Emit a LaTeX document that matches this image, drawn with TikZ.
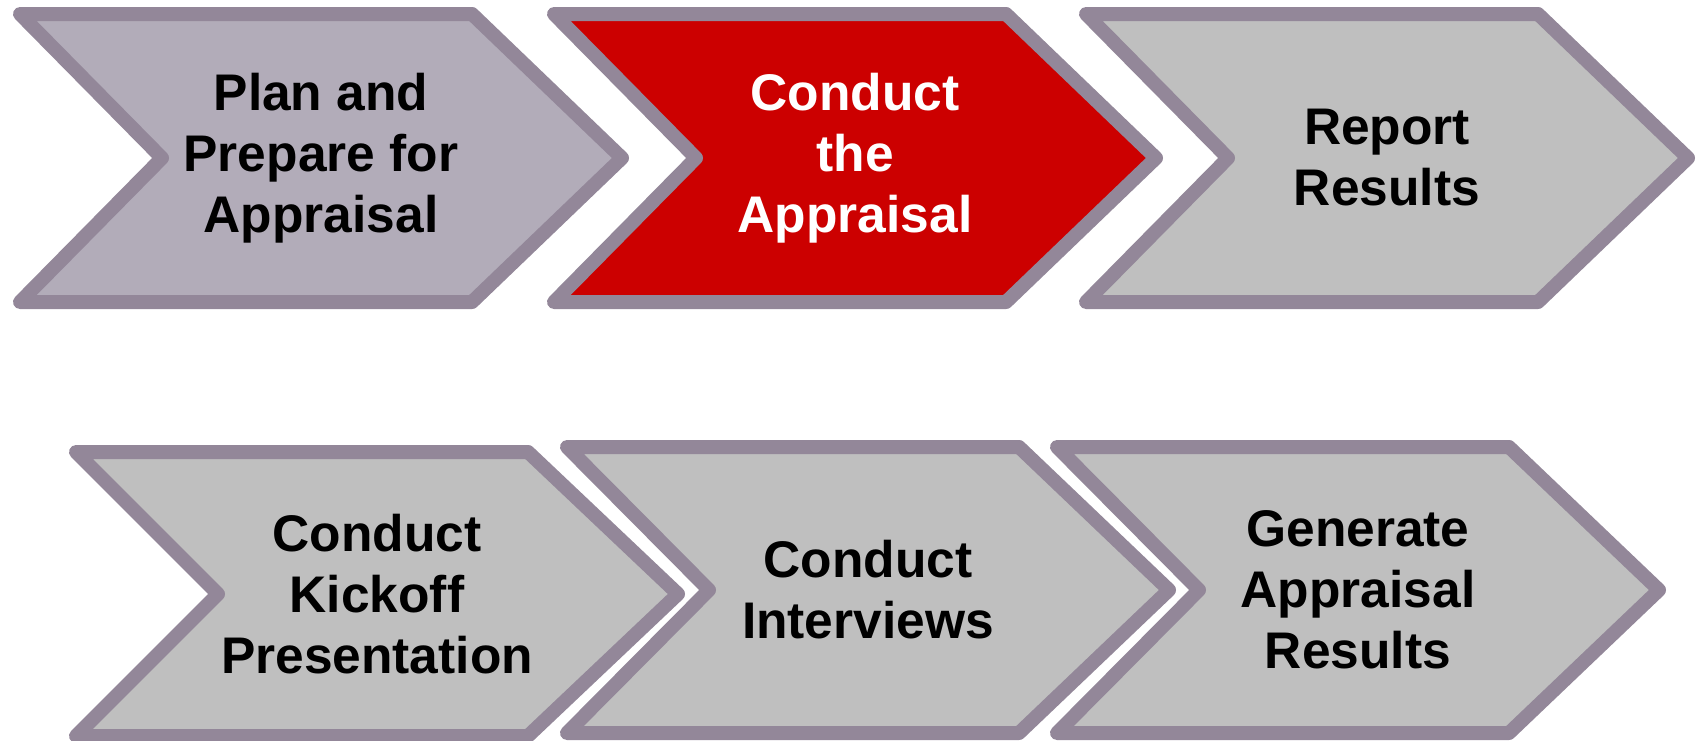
\documentclass[tikz,border=0pt]{standalone}
\usepackage{fontspec}
\setmainfont{Liberation Sans}
\definecolor{edgec}{HTML}{938799}
\definecolor{planc}{HTML}{B2ACB9}
\definecolor{redc}{HTML}{CC0000}
\definecolor{grayc}{HTML}{BFBFBF}
\tikzset{
  chev/.style={draw=edgec, line width=14pt, line join=round},
  halo/.style={draw=white, line width=17pt, line join=round},
  lbl/.style={align=center, font=\fontsize{51.5}{61}\selectfont\bfseries, inner sep=0pt},
}
% name, x0, top, bottom, fill, textcolor, text
\newcommand\chevron[7]{%
  \pgfmathsetmacro\chevmid{(#3+#4)/2}%
  \draw[halo] (#2,#3) -- (#2+452,#3) -- (#2+602,\chevmid) -- (#2+452,#4) -- (#2,#4) -- (#2+142,\chevmid) -- cycle;
  \filldraw[chev, fill=#5] (#2,#3) -- (#2+452,#3) -- (#2+602,\chevmid) -- (#2+452,#4) -- (#2,#4) -- (#2+142,\chevmid) -- cycle;
  \node[lbl, text=#6] (#1) at (#2+301,\chevmid) {#7};
}
\begin{document}
\begin{tikzpicture}[x=1pt, y=-1pt]
  \useasboundingbox[fill=white] (0,0) rectangle (1697,740);
  \chevron{plan}{20}{14}{302}{planc}{black}{Plan and\\Prepare for\\Appraisal}
  \chevron{conduct}{554}{14}{302}{redc}{white}{Conduct\\the\\Appraisal}
  \chevron{report}{1086}{14}{302}{grayc}{black}{Report\\Results}
  \chevron{kickoff}{76}{452}{736}{grayc}{black}{Conduct\\Kickoff\\Presentation}
  \chevron{interviews}{567}{447}{733}{grayc}{black}{Conduct\\Interviews}
  \chevron{generate}{1057}{447}{733}{grayc}{black}{Generate\\Appraisal\\Results}
\end{tikzpicture}
\end{document}
